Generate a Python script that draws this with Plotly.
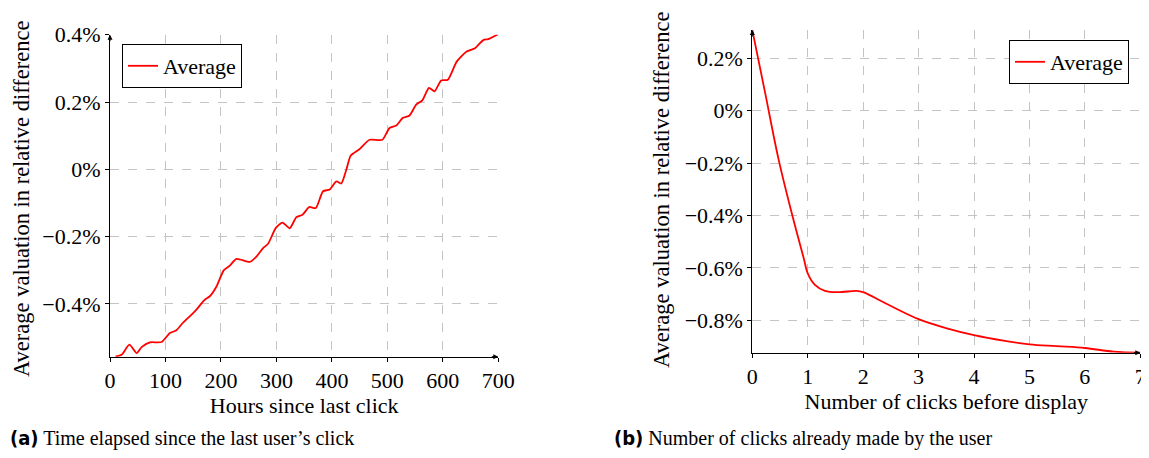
import plotly.graph_objects as go

# ---- data (a): hours since last click vs average valuation (%) ----
hours = [10, 21, 35, 48, 57, 72, 93, 108, 119, 132, 153, 171, 180, 192, 205, 216, 228,
         252, 264, 276, 285, 299, 311, 324, 336, 347, 359, 371, 384, 396, 408, 417, 426,
         434, 449, 468, 491, 504, 516, 528, 540, 552, 563, 575, 585, 597, 609, 625, 643,
         658, 673, 682, 699]
val_a = [-0.556, -0.551, -0.521, -0.546, -0.528, -0.514, -0.513, -0.486, -0.479, -0.455,
         -0.422, -0.387, -0.377, -0.348, -0.300, -0.286, -0.266, -0.275, -0.259, -0.234,
         -0.221, -0.174, -0.158, -0.175, -0.142, -0.135, -0.112, -0.115, -0.065, -0.060,
         -0.036, -0.042, -0.001, 0.041, 0.059, 0.088, 0.088, 0.123, 0.130, 0.153, 0.160,
         0.192, 0.205, 0.242, 0.232, 0.264, 0.266, 0.320, 0.350, 0.360, 0.384, 0.387, 0.401]

# ---- data (b): number of clicks before display vs average valuation (%) ----
clicks = [0, 0.23, 0.47, 0.71, 0.86, 0.93, 1.0, 1.13, 1.31, 1.55, 1.88, 2.0, 2.4, 3.0,
          3.51, 4.0, 4.53, 5.0, 5.49, 6.0, 6.52, 7.0]
val_b = [0.308, 0.070, -0.182, -0.390, -0.510, -0.565, -0.621, -0.665, -0.688, -0.693,
         -0.688, -0.693, -0.735, -0.796, -0.831, -0.857, -0.878, -0.892, -0.899, -0.906,
         -0.920, -0.924]

xticks_a = [0, 100, 200, 300, 400, 500, 600, 700]
yticks_a = [-0.4, -0.2, 0, 0.2, 0.4]
ytext_a = ["\u22120.4%", "\u22120.2%", "0%", "0.2%", "0.4%"]
xticks_b = [0, 1, 2, 3, 4, 5, 6, 7]
yticks_b = [-0.8, -0.6, -0.4, -0.2, 0, 0.2]
ytext_b = ["\u22120.8%", "\u22120.6%", "\u22120.4%", "\u22120.2%", "0%", "0.2%"]
ytitle = "Average valuation in relative difference"

W, H = 1149, 458
OFF = 8  # page body margin
SERIF = "Liberation Serif"
FS = 22


def px(v):
    return (v - OFF) / W


def py(v):
    return 1 - (v - OFF) / H


fig = go.Figure()
fig.add_trace(go.Scatter(x=hours, y=val_a, mode="lines", name="Average",
                         line=dict(color="#ff0000", width=1.8, shape="spline", smoothing=0.6),
                         xaxis="x", yaxis="y", legend="legend"))
fig.add_trace(go.Scatter(x=clicks, y=val_b, mode="lines", name="Average",
                         line=dict(color="#ff0000", width=1.8, shape="spline", smoothing=1.0),
                         xaxis="x2", yaxis="y2", legend="legend2"))

axis_common = dict(showline=True, linecolor="black", linewidth=1, ticks="outside", ticklen=4,
                   tickcolor="black", showgrid=True, gridcolor="#c4c4c4", griddash="dash",
                   gridwidth=1, zeroline=False, mirror=False, automargin=False,
                   ticklabeloverflow="allow",
                   tickfont=dict(family=SERIF, size=FS, color="black"),
                   title_font=dict(family=SERIF, size=FS, color="black"))

fig.update_layout(
    template="none",
    width=W, height=H, margin=dict(l=0, r=0, t=0, b=0, autoexpand=False),
    paper_bgcolor="white", plot_bgcolor="white",
    font=dict(family=SERIF, size=FS, color="black"),
    xaxis=dict(axis_common, domain=[px(110), px(498.3)], range=[0, 700], tickvals=xticks_a,
               title=dict(text="Hours since last click", standoff=2), anchor="y"),
    yaxis=dict(axis_common, domain=[py(356.7), py(34.7)], range=[-0.5566, 0.4],
               tickvals=yticks_a, ticktext=ytext_a, anchor="x"),
    xaxis2=dict(axis_common, domain=[px(752.3), px(1140.3)], range=[0, 7], tickvals=xticks_b,
                title=dict(text="Number of clicks before display", standoff=2), anchor="y2"),
    yaxis2=dict(axis_common, domain=[py(352.7), py(30)], range=[-0.924, 0.308],
                tickvals=yticks_b, ticktext=ytext_b, anchor="x2"),
    legend=dict(x=px(122), y=py(44), xanchor="left", yanchor="top",
                bordercolor="black", borderwidth=1, bgcolor="white",
                font=dict(family=SERIF, size=FS), itemwidth=30, tracegroupgap=0),
    legend2=dict(x=px(1129), y=py(40), xanchor="right", yanchor="top",
                 bordercolor="black", borderwidth=1, bgcolor="white",
                 font=dict(family=SERIF, size=FS), itemwidth=30, tracegroupgap=0),
    showlegend=True,
)

# y-axis titles (placed precisely)
for xc, yc in [(22, 199), (662, 190)]:
    fig.add_annotation(text=ytitle, textangle=-90, xref="paper", yref="paper",
                       x=px(xc), y=py(yc), xanchor="center", yanchor="middle", showarrow=False,
                       font=dict(family=SERIF, size=22.5, color="black"))

# axis-end arrows (pgfplots style)
arrows = [
    dict(x=700, y=-0.5566, xref="x", yref="y", ax=-8, ay=0),
    dict(x=0, y=0.4, xref="x", yref="y", ax=0, ay=8),
    dict(x=7, y=-0.924, xref="x2", yref="y2", ax=-8, ay=0),
    dict(x=0, y=0.308, xref="x2", yref="y2", ax=0, ay=8),
]
for a in arrows:
    fig.add_annotation(text="", showarrow=True, arrowhead=2, arrowsize=1, arrowwidth=1,
                       arrowcolor="black", **a)

# sub-captions
BOLD = "<span style=\"font-family:'DejaVu Sans Condensed','DejaVu Sans';font-weight:bold\">"
fig.add_annotation(
    text=BOLD + "(a)</span> Time elapsed since the last user\u2019s click",
    xref="paper", yref="paper", x=0, y=py(438), xanchor="left", yanchor="middle",
    showarrow=False, font=dict(family=SERIF, size=20, color="black"))
fig.add_annotation(
    text=BOLD + "(b)</span> Number of clicks already made by the user",
    xref="paper", yref="paper", x=px(612), y=py(438), xanchor="left", yanchor="middle",
    showarrow=False, font=dict(family=SERIF, size=20, color="black"))

fig.write_html("out.html")
